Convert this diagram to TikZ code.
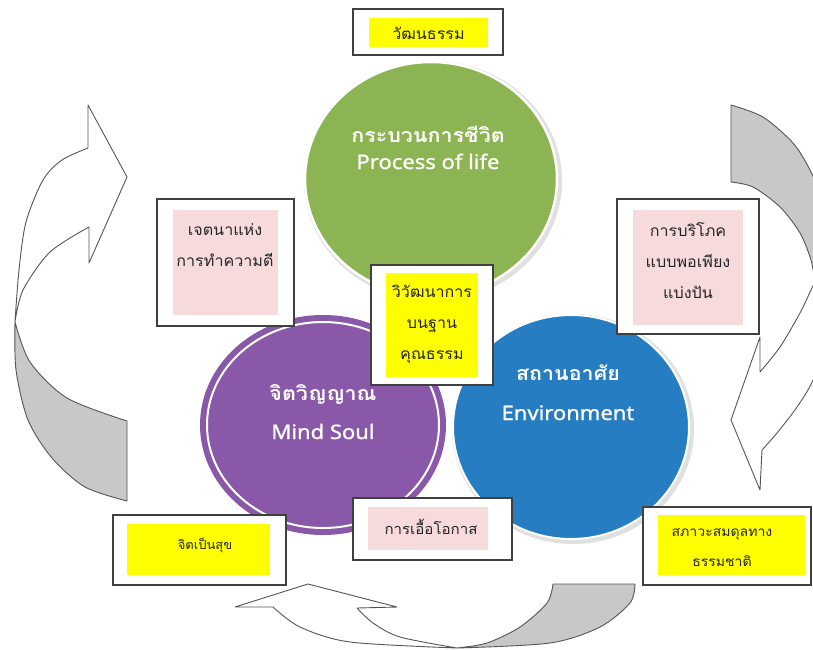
\documentclass[tikz,border=0pt]{standalone}
\usepackage{fontspec}
\setmainfont[Script=Thai]{Loma}
\newfontfamily\latinfont[FakeStretch=1.1,FakeBold=1]{Noto Sans}
\newfontfamily\thaicirc[Script=Thai,FakeStretch=1.1]{Loma}
\newfontfamily\thaibox[Script=Thai,FakeStretch=1.04]{Loma}
\usetikzlibrary{shapes.geometric}
\definecolor{cgreen}{RGB}{141,180,82}
\definecolor{cpurple}{RGB}{138,88,168}
\definecolor{cblue}{RGB}{38,125,194}
\definecolor{cpink}{RGB}{246,218,220}
\definecolor{cyel}{RGB}{255,255,0}
\definecolor{cgray}{RGB}{200,200,200}
\definecolor{cedge}{RGB}{85,85,85}
\tikzset{
  arrw/.style={draw=cedge, line width=0.9pt, line join=round},
  outerbox/.style={draw=black!75, line width=1.3pt, fill=white, inner sep=0pt},
  yelbox/.style={fill=cyel, inner sep=0pt},
  pinkbox/.style={fill=cpink, inner sep=0pt},
  boxtext/.style={align=center, text=black!85, font=\thaibox\fontsize{15.5}{31}\selectfont, inner sep=0pt},
  smalltext/.style={align=center, text=black!85, font=\thaibox\fontsize{13.5}{30}\selectfont, inner sep=0pt},
  circtext/.style={text=white, anchor=base, inner sep=0pt, font=\thaicirc\bfseries\fontsize{19.5}{19.5}\selectfont},
  latintext/.style={text=white, anchor=base, inner sep=0pt, font=\latinfont\fontsize{20}{20}\selectfont},
  disc/.style={ellipse, inner sep=0pt}
}
\begin{document}
\begin{tikzpicture}[x=1pt,y=-1pt]
\useasboundingbox (0,0) rectangle (813,649);
\fill[white] (0,0) rectangle (813,649);
\begin{scope}
\clip (0,0) rectangle (813,649);
% left arrow
\draw[arrw, fill=cgray] (127,421) -- (127,501) -- plot[smooth] coordinates {(127,501) (85,487) (52,458) (28,420) (16,370) (15,322)} -- plot[smooth] coordinates {(15,322) (30,362) (67,398) (127,421)} -- cycle;
\draw[arrw, fill=white] (88,105) -- (127,177) -- (89,263) -- (89,227) -- plot[smooth] coordinates {(89,227) (50,252) (23,290) (15,322)} -- plot[smooth] coordinates {(15,322) (19,270) (26,222) (43,180) (62,160) (88,148)} -- cycle;
% right arrow
\draw[arrw, fill=cgray] (731,182) -- (731,105) -- plot[smooth] coordinates {(731,105) (763,117) (793,143) (810,170) (822,200) (830,240)} -- (830,284) -- plot[smooth] coordinates {(815,282) (811,260) (800,233) (780,207) (753,187) (731,182)} -- cycle;
\draw[arrw, fill=white] (760,490) -- (762,450) -- plot[smooth] coordinates {(762,450) (777,433) (797,407) (813,380) (825,340) (830,300)} -- (815,282) -- plot[smooth] coordinates {(815,282) (811,290) (800,313) (780,347) (760,372)} -- (760,337) -- (731,420) -- cycle;
% bottom arrow
\draw[arrw, fill=cgray] (553,584) -- (635,584) -- plot[smooth] coordinates {(635,584) (630,603) (600,627) (550,643) (457,648)} -- plot[smooth] coordinates {(457,648) (487,643) (520,627) (547,603) (553,584)} -- cycle;
\draw[arrw, fill=white] (235,607) -- (308,584) -- (397,607) -- (357,608) -- plot[smooth] coordinates {(357,608) (373,623) (400,637) (457,648)} -- plot[smooth] coordinates {(457,648) (350,642) (300,627) (273,607)} -- cycle;
\end{scope}
% circles
\node[disc, minimum width=258, minimum height=240, fill=black!12] (gshadow) at (433,181) {};
\node[disc, minimum width=252, minimum height=234, fill=cgreen, draw=white, line width=2.5pt] (green) at (431,179) {};
\node[disc, minimum width=242, minimum height=230, fill=black!12] (bshadow) at (573,429) {};
\node[disc, minimum width=236, minimum height=224, fill=cblue, draw=white, line width=2pt] (blue) at (571,427) {};
\node[disc, minimum width=246, minimum height=220, fill=cpurple] (purple) at (323,425) {};
\node[disc, minimum width=232, minimum height=206, draw=white, line width=2pt] (pring) at (323,425) {};
% circle texts
\node[circtext] (g1) at (428,142) {กระบวนการชีวิต};
\node[latintext] (g2) at (428,169) {Process of life};
\node[circtext] (p1) at (323,400) {จิตวิญญาณ};
\node[latintext] (p2) at (323,439) {Mind Soul};
\node[circtext] (b1) at (568,380) {สถานอาศัย};
\node[latintext] (b2) at (568,420) {Environment};
% boxes
\node[outerbox, minimum width=150, minimum height=46] (topO) at (428,32) {};
\node[yelbox, minimum width=119, minimum height=29] (topI) at (428.5,32.5) {};
\node[boxtext] (topT) at (428.5,33) {วัฒนธรรม};

\node[outerbox, minimum width=137, minimum height=127] (leftO) at (225.5,262.5) {};
\node[pinkbox, minimum width=105, minimum height=105] (leftI) at (225.5,262.5) {};
\node[boxtext] (leftT) at (225,245.5) {เจตนาแห่ง\\การทำความดี};

\node[outerbox, minimum width=142, minimum height=135] (rightO) at (688,266.5) {};
\node[pinkbox, minimum width=110, minimum height=115] (rightI) at (688,267.5) {};
\node[boxtext] (rightT) at (688,261) {การบริโภค\\แบบพอเพียง\\แบ่งปัน};

\node[outerbox, minimum width=122, minimum height=120] (midO) at (432,325) {};
\node[yelbox, minimum width=92, minimum height=104] (midI) at (432,325) {};
\node[boxtext] (midT) at (432,324.5) {วิวัฒนาการ\\บนฐาน\\คุณธรรม};

\node[outerbox, minimum width=173, minimum height=70] (blO) at (199.5,550) {};
\node[yelbox, minimum width=143, minimum height=51] (blI) at (198.5,549.5) {};
\node[smalltext, font=\thaibox\fontsize{12.5}{30}\selectfont] (blT) at (205,545) {จิตเป็นสุข};

\node[outerbox, minimum width=159, minimum height=62] (bcO) at (432.5,529) {};
\node[pinkbox, minimum width=120, minimum height=43] (bcI) at (428,528.5) {};
\node[smalltext, font=\thaibox\fontsize{14.5}{30}\selectfont] (bcT) at (431,527) {การเอื้อโอกาส};

\node[outerbox, minimum width=168, minimum height=78] (brO) at (727,546) {};
\node[yelbox, minimum width=147, minimum height=60] (brI) at (731.5,545) {};
\node[smalltext] (brT) at (722,548) {สภาวะสมดุลทาง\\ธรรมชาติ};
\end{tikzpicture}
\end{document}
